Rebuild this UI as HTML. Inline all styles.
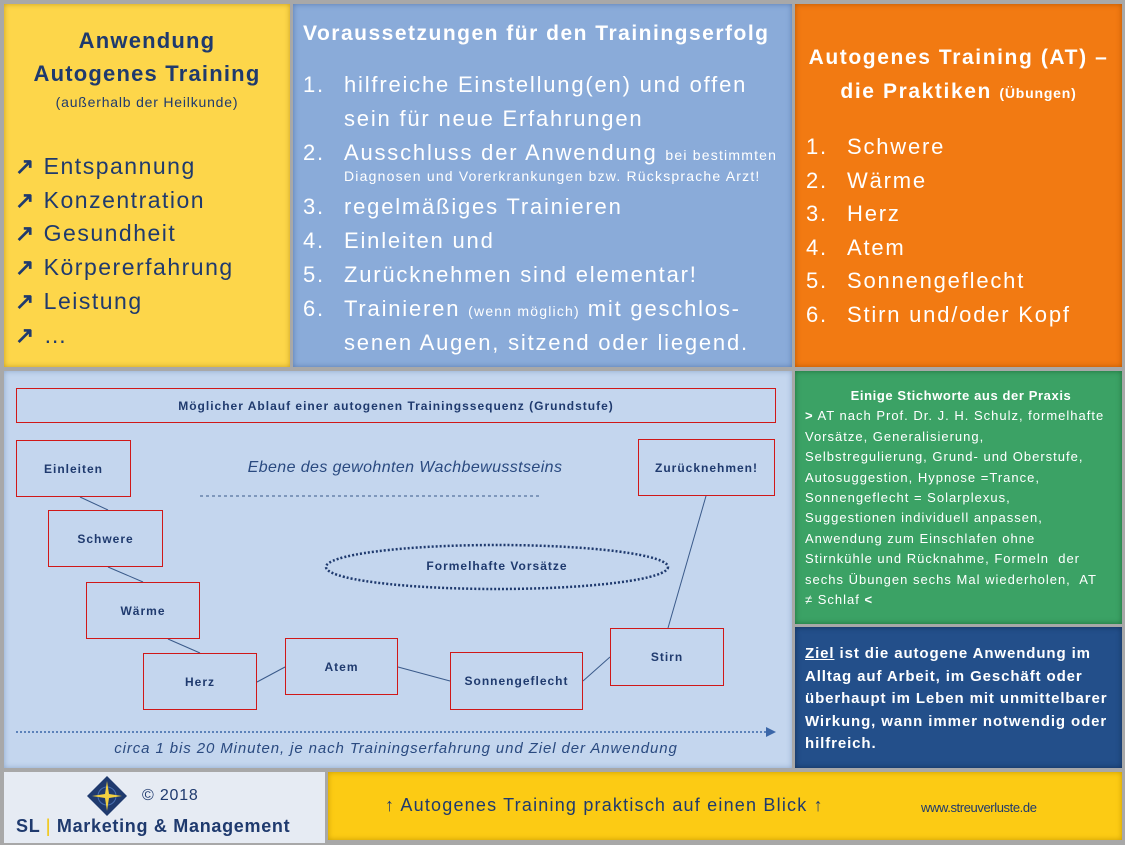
<!DOCTYPE html>
<html><head><meta charset="utf-8"><style>
*{margin:0;padding:0;box-sizing:border-box}
body{width:1125px;height:845px;background:#a8a8a8;position:relative;overflow:hidden;font-family:"Liberation Sans",sans-serif}
.p{position:absolute}
.t{position:absolute;white-space:nowrap}
.nv{color:#1f3a6e}
.w{color:#fff}
.sm{font-size:14px;letter-spacing:1.2px}
.box{position:absolute;border:1px solid #d01818;display:flex;align-items:center;justify-content:center;font-size:12px;font-weight:bold;color:#1f3a6e;letter-spacing:1px;white-space:nowrap}
</style></head><body>
<div class="p" style="left:4px;top:4px;width:286px;height:363px;background:#fdd64a;box-shadow:inset 0 0 6px #c9a020"></div>
<div class="p" style="left:293px;top:4px;width:499px;height:363px;background:#8aabd9;box-shadow:inset 0 0 6px #5a7cb0"></div>
<div class="p" style="left:795px;top:4px;width:327px;height:363px;background:#f27a12;box-shadow:inset 0 0 6px #b85500"></div>
<div class="p" style="left:4px;top:371px;width:788px;height:397px;background:#c4d6ee;box-shadow:inset 0 0 6px #8ea8cc"></div>
<div class="p" style="left:795px;top:371px;width:327px;height:253px;background:#3ba265;box-shadow:inset 0 0 6px #20703c"></div>
<div class="p" style="left:795px;top:627px;width:327px;height:141px;background:#234f8a;box-shadow:inset 0 0 6px #12305a"></div>
<div class="p" style="left:4px;top:772px;width:321px;height:71px;background:#e6ebf3"></div>
<div class="p" style="left:328px;top:772px;width:794px;height:68px;background:#fccb14;box-shadow:inset 0 0 6px #c89a00"></div>

<!-- yellow panel -->
<div class="t nv" style="left:4px;width:286px;text-align:center;top:28px;font-size:22px;font-weight:bold;letter-spacing:1.2px">Anwendung</div>
<div class="t nv" style="left:4px;width:286px;text-align:center;top:61px;font-size:22px;font-weight:bold;letter-spacing:1.2px">Autogenes Training</div>
<div class="t nv" style="left:4px;width:286px;text-align:center;top:94px;font-size:14px;letter-spacing:0.8px">(außerhalb der Heilkunde)</div>
<div class="nv" style="position:absolute;left:15px;top:150px;font-size:23px;line-height:33.7px;letter-spacing:1.5px">
<div><b>↗</b> Entspannung</div><div><b>↗</b> Konzentration</div><div><b>↗</b> Gesundheit</div><div><b>↗</b> Körpererfahrung</div><div><b>↗</b> Leistung</div><div><b>↗</b> …</div></div>

<!-- blue panel -->
<div class="t w" style="left:303px;top:22px;font-size:21px;font-weight:bold;letter-spacing:1.5px">Voraussetzungen für den Trainingserfolg</div>
<div class="w" style="position:absolute;left:303px;top:68px;font-size:22px;line-height:33.7px;letter-spacing:1.8px">
<div class="t" style="top:0">1.</div><div class="t" style="left:41px;top:0">hilfreiche Einstellung(en) und offen</div>
<div class="t" style="left:41px;top:34px">sein für neue Erfahrungen</div>
<div class="t" style="top:68px">2.</div><div class="t" style="left:41px;top:68px">Ausschluss der Anwendung <span class="sm">bei bestimmten</span></div>
<div class="t sm" style="left:41px;top:98px;line-height:20px">Diagnosen und Vorerkrankungen bzw. Rücksprache Arzt!</div>
<div class="t" style="top:122px">3.</div><div class="t" style="left:41px;top:122px">regelmäßiges Trainieren</div>
<div class="t" style="top:156px">4.</div><div class="t" style="left:41px;top:156px">Einleiten und</div>
<div class="t" style="top:190px">5.</div><div class="t" style="left:41px;top:190px">Zurücknehmen sind elementar!</div>
<div class="t" style="top:224px">6.</div><div class="t" style="left:41px;top:224px">Trainieren <span class="sm">(wenn möglich)</span> mit geschlos-</div>
<div class="t" style="left:41px;top:258px">senen Augen, sitzend oder liegend.</div>
</div>

<!-- orange panel -->
<div class="t w" style="left:795px;width:327px;text-align:center;top:46px;font-size:21px;font-weight:bold;letter-spacing:1.6px">Autogenes Training (AT) –</div>
<div class="t w" style="left:795px;width:327px;text-align:center;top:80px;font-size:21px;font-weight:bold;letter-spacing:1.6px">die Praktiken <span style="font-size:14px;letter-spacing:0.8px">(Übungen)</span></div>
<div class="w" style="position:absolute;left:806px;top:130px;font-size:22px;line-height:33.7px;letter-spacing:1.8px">
<div class="t" style="top:0">1.</div><div class="t" style="left:41px;top:0">Schwere</div>
<div class="t" style="top:34px">2.</div><div class="t" style="left:41px;top:34px">Wärme</div>
<div class="t" style="top:67px">3.</div><div class="t" style="left:41px;top:67px">Herz</div>
<div class="t" style="top:101px">4.</div><div class="t" style="left:41px;top:101px">Atem</div>
<div class="t" style="top:134px">5.</div><div class="t" style="left:41px;top:134px">Sonnengeflecht</div>
<div class="t" style="top:168px">6.</div><div class="t" style="left:41px;top:168px">Stirn und/oder Kopf</div>
</div>

<!-- diagram -->
<svg class="p" style="left:0;top:0" width="1125" height="845">
<g stroke="#3a5a8a" stroke-width="1" fill="none">
<line x1="80" y1="497" x2="108" y2="510"/><line x1="108" y1="567" x2="143" y2="582"/>
<line x1="168" y1="639" x2="200" y2="653"/><line x1="257" y1="682" x2="285" y2="667"/>
<line x1="398" y1="667" x2="450" y2="681"/><line x1="583" y1="681" x2="610" y2="657"/>
<line x1="668" y1="628" x2="706" y2="496"/>
</g>
<ellipse cx="497" cy="567" rx="171" ry="22" fill="none" stroke="#1f3a6e" stroke-width="2.5" stroke-dasharray="2 2"/>
<line x1="200" y1="496" x2="540" y2="496" stroke="#3a5a8a" stroke-dasharray="3 3"/>
<line x1="16" y1="732" x2="766" y2="732" stroke="#3a66a8" stroke-width="1.5" stroke-dasharray="2 2"/>
<polygon points="776,732 766,727 766,737" fill="#3a66a8"/>
</svg>
<div class="box" style="left:16px;top:388px;width:760px;height:35px">Möglicher Ablauf einer autogenen Trainingssequenz (Grundstufe)</div>
<div class="box" style="left:16px;top:440px;width:115px;height:57px">Einleiten</div>
<div class="box" style="left:48px;top:510px;width:115px;height:57px">Schwere</div>
<div class="box" style="left:86px;top:582px;width:114px;height:57px">Wärme</div>
<div class="box" style="left:143px;top:653px;width:114px;height:57px">Herz</div>
<div class="box" style="left:285px;top:638px;width:113px;height:57px">Atem</div>
<div class="box" style="left:450px;top:652px;width:133px;height:58px">Sonnengeflecht</div>
<div class="box" style="left:610px;top:628px;width:114px;height:58px">Stirn</div>
<div class="box" style="left:638px;top:439px;width:137px;height:57px">Zurücknehmen!</div>
<div class="t nv" style="left:397px;top:559px;font-size:12px;font-weight:bold;width:200px;text-align:center;letter-spacing:1px">Formelhafte Vorsätze</div>
<div class="t" style="left:200px;width:410px;text-align:center;top:459px;font-size:16px;font-style:italic;color:#2a4a80;letter-spacing:0.4px">Ebene des gewohnten Wachbewusstseins</div>
<div class="t" style="left:16px;width:760px;text-align:center;top:740px;font-size:15px;font-style:italic;color:#2a4a80;letter-spacing:0.9px">circa 1 bis 20 Minuten, je nach Trainingserfahrung und Ziel der Anwendung</div>

<!-- green -->
<div class="w" style="position:absolute;left:805px;top:386px;width:318px;font-size:13px;line-height:20.4px;letter-spacing:1px;white-space:nowrap">
<div style="text-align:center;font-weight:bold;letter-spacing:0.6px;width:312px">Einige Stichworte aus der Praxis</div>
<div><b>&gt;</b> AT nach Prof. Dr. J. H. Schulz, formelhafte</div><div>Vorsätze, Generalisierung,</div><div>Selbstregulierung, Grund- und Oberstufe,</div><div>Autosuggestion, Hypnose =Trance,</div><div>Sonnengeflecht = Solarplexus,</div><div>Suggestionen individuell anpassen,</div><div>Anwendung zum Einschlafen ohne</div><div>Stirnkühle und Rücknahme, Formeln&nbsp; der</div><div>sechs Übungen sechs Mal wiederholen,&nbsp; AT</div><div>≠ Schlaf <b>&lt;</b></div>
</div>
<!-- dark blue -->
<div class="w" style="position:absolute;left:805px;top:643px;width:320px;font-size:15px;line-height:22.5px;font-weight:bold;letter-spacing:0.9px;white-space:nowrap">
<div><u>Ziel</u> ist die autogene Anwendung im</div><div>Alltag auf Arbeit, im Geschäft oder</div><div>überhaupt im Leben mit unmittelbarer</div><div>Wirkung, wann immer notwendig oder</div><div>hilfreich.</div></div>

<!-- footer -->
<svg class="p" style="left:86px;top:775px" width="42" height="42"><polygon points="21,1 41,21 21,41 1,21" fill="#1f3a6e"/><circle cx="21" cy="21" r="9" fill="none" stroke="#4a70b0" stroke-width="1"/><polygon points="21,6 23,19 36,21 23,23 21,36 19,23 6,21 19,19" fill="#f2d040"/></svg>
<div class="t nv" style="left:142px;top:787px;font-size:16px;letter-spacing:0.8px">© 2018</div>
<div class="t nv" style="left:16px;top:816px;font-size:18px;font-weight:bold;letter-spacing:0.7px">SL <span style="color:#f2c400;font-weight:normal">|</span> Marketing &amp; Management</div>
<div class="t nv" style="left:385px;top:795px;font-size:18px;letter-spacing:1.2px">↑ Autogenes Training praktisch auf einen Blick ↑</div>
<div class="t nv" style="left:921px;top:800px;font-size:13px;letter-spacing:-0.4px">www.streuverluste.de</div>
</body></html>
